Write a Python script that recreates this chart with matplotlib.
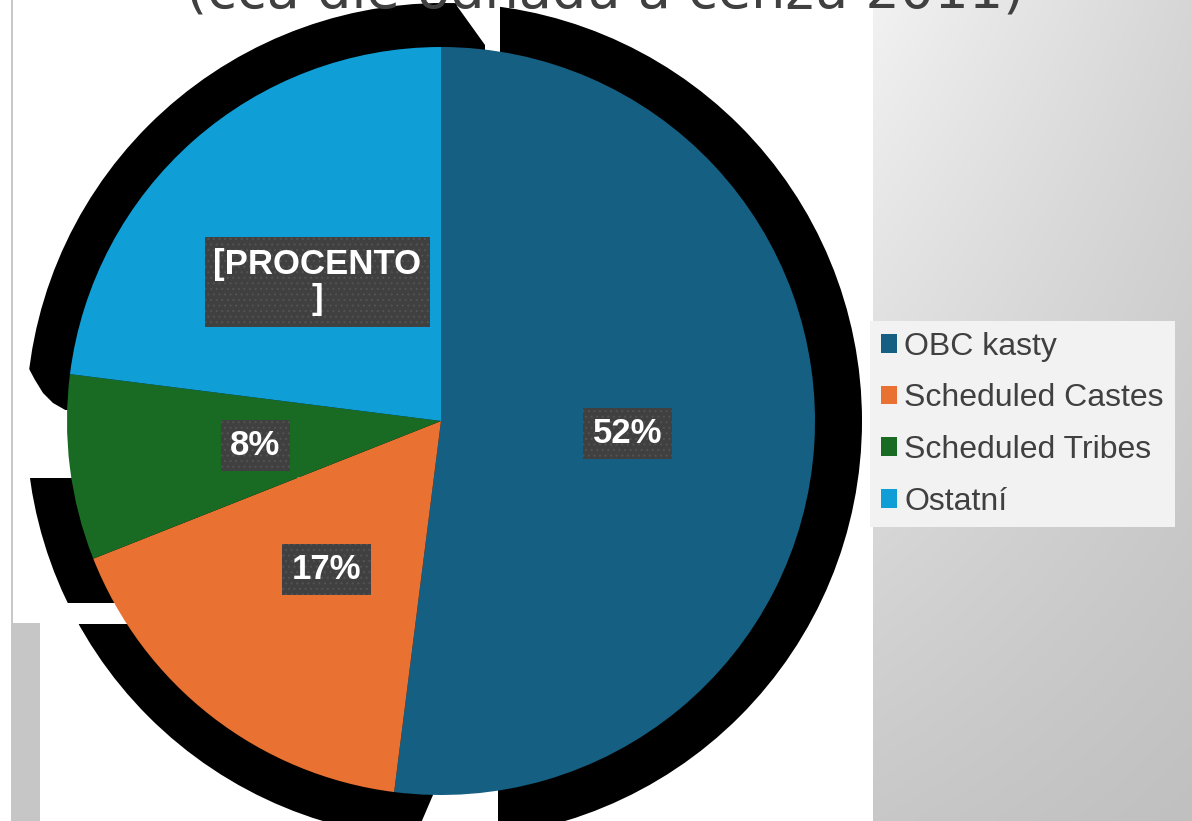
import numpy as np
import matplotlib
matplotlib.use('Agg')
import matplotlib.pyplot as plt
from matplotlib.patches import Rectangle, Circle, Polygon

# ---- data ----
categories = ['OBC kasty', 'Scheduled Castes', 'Scheduled Tribes', 'Ostatní']
values = [52, 17, 8, 23]
label_texts = ['52%', '17%', '8%', '[PROCENTO\n]']
title_text = '(cca dle odhadu a cenzu 2011)'
colors = ['#156082', '#E97132', '#196B24', '#0F9ED5']

plt.rcParams['hatch.color'] = '#525252'
plt.rcParams['hatch.linewidth'] = 0.8

W, H = 1192, 821
CX, CY, R = 441, 421, 374  # pie centre / radius in pixels

fig = plt.figure(figsize=(W / 100, H / 100), dpi=100)
fig.patch.set_facecolor('white')
ax = fig.add_axes([0, 0, 1, 1])


def px(x):
    return (x - CX) / R


def py(y):
    return (CY - y) / R


# right gradient panel
u = np.linspace(0, 1, 200)[None, :]
v = np.linspace(0, 1, 300)[:, None]
g = (242 - 28 * u - 42 * v + 20 * u * v) / 255.0
img = np.dstack([g, g, g])
ax.imshow(img, extent=[px(873), px(W), py(H), py(0)], origin='upper',
          aspect='auto', zorder=0, interpolation='bilinear')

# black "shadow" behind the pie
ax.add_patch(Circle((px(444), py(421)), 418 / R, fc='black', ec='none', zorder=1))
cuts = [(20, 410, 300, 478), (20, 603, 300, 624)]
for x0, y0, x1, y1 in cuts:
    ax.add_patch(Rectangle((px(x0), py(y1)), (x1 - x0) / R, (y1 - y0) / R,
                           fc='white', ec='none', zorder=1.5))
gap_polys = [
    [(455, -5), (500, -5), (500, 120), (485, 120), (485, 45), (457, 6)],
    [(433, 700), (498, 700), (498, 830), (418, 830), (433, 795)],
    [(20, 355), (27, 365), (35, 380), (43, 393), (53, 403), (67, 411), (20, 411)],
]
for poly in gap_polys:
    ax.add_patch(Polygon([(px(a), py(b)) for a, b in poly], closed=True,
                         fc='white', ec='none', zorder=1.5))

# left decorations
ax.add_patch(Rectangle((px(11), py(623)), 1.5 / R, 623 / R, fc='#c8c8c8', ec='none', zorder=2))
ax.add_patch(Rectangle((px(11), py(H)), 29 / R, (H - 623) / R, fc='#c6c6c6', ec='none', zorder=2))

# pie
wedges, _ = ax.pie(values, colors=colors, startangle=90, counterclock=False,
                   radius=1, center=(0, 0), wedgeprops=dict(linewidth=0))
for w in wedges:
    w.set_zorder(3)

ax.set_xlim(-CX / R, (W - CX) / R)
ax.set_ylim(-(H - CY) / R, CY / R)
ax.set_aspect('auto')
ax.axis('off')

# data labels
texts = []
for w, t in zip(wedges, label_texts):
    ang = np.deg2rad((w.theta1 + w.theta2) / 2)
    x, y = 0.5 * np.cos(ang), 0.5 * np.sin(ang) - 1 / R
    tx = ax.text(x, y, t, ha='center', va='center', multialignment='center',
                 color='white', fontsize=25, fontweight='bold',
                 family=['Liberation Sans', 'DejaVu Sans'], linespacing=1.08, zorder=5)
    texts.append(tx)

fig.canvas.draw()
renderer = fig.canvas.get_renderer()
inv = ax.transData.inverted()
for tx, t in zip(texts, label_texts):
    bb = tx.get_window_extent(renderer)
    hp = 9.5 if '\n' not in t else 8.5
    vp = 9.0 if '\n' not in t else 11.0
    (x0, y0) = inv.transform((bb.x0 - hp, bb.y0 - vp))
    (x1, y1) = inv.transform((bb.x1 + hp, bb.y1 + vp))
    ax.add_patch(Rectangle((x0, y0), x1 - x0, y1 - y0, fc='#404040', ec='#525252',
                           lw=0, hatch='...', zorder=4))

# title (cut off at top)
ax.text(px(605), py(7), title_text, ha='center', va='baseline', fontsize=39,
        color='#404040', family='DejaVu Sans', zorder=5)

# legend
leg = ax.legend(wedges, categories, loc='upper left',
                bbox_to_anchor=(870 / W, 1 - 321 / H), bbox_transform=fig.transFigure,
                frameon=True, fancybox=False, framealpha=1, facecolor='#f2f2f2',
                edgecolor='none', handlelength=0.53, handleheight=0.53,
                handletextpad=0.22, labelspacing=0.68, borderpad=0.33,
                borderaxespad=0, labelcolor='#404040',
                prop=dict(family=['Liberation Sans', 'DejaVu Sans'], size=23))
leg.set_zorder(6)

ax.set_xlim(-CX / R, (W - CX) / R)
ax.set_ylim(-(H - CY) / R, CY / R)

fig.savefig('out.png', dpi=100, facecolor='white')
